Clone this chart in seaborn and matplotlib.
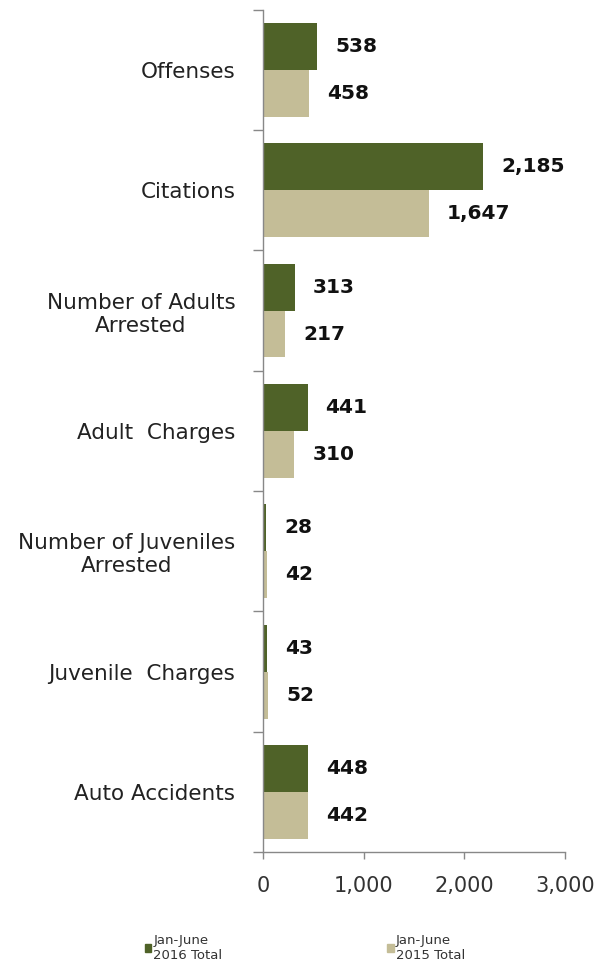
import numpy as np
import pandas as pd
import seaborn as sns
import matplotlib.pyplot as plt
from matplotlib.patches import Patch

# values
categories = ["Offenses", "Citations", "Number of Adults\nArrested", "Adult  Charges",
              "Number of Juveniles\nArrested", "Juvenile  Charges", "Auto Accidents"]
total_2016 = [538, 2185, 313, 441, 28, 43, 448]
total_2015 = [458, 1647, 217, 310, 42, 52, 442]
series = ["Jan-June\n2016 Total", "Jan-June\n2015 Total"]
xticks = [0, 1000, 2000, 3000]

colors = ["#4f6228", "#c4bd97"]

# long format for seaborn
df = pd.DataFrame({
    "category": categories * 2,
    "value": total_2016 + total_2015,
    "series": [series[0]] * len(categories) + [series[1]] * len(categories),
})

sns.set_theme(style="white")
plt.rcParams["font.family"] = ["DejaVu Sans"]

fig = plt.figure(figsize=(5.98, 9.64), dpi=100)
ax = fig.add_axes([0.44, 0.116, 0.505, 0.874])

sns.barplot(data=df, y="category", x="value", hue="series", order=categories,
            hue_order=series, palette=colors, orient="h", width=0.78,
            saturation=1, linewidth=0, ax=ax, legend=False)

# value labels
for c in ax.containers:
    ax.bar_label(c, labels=[f"{v:,.0f}" for v in c.datavalues], padding=13,
                 fontsize=14.5, fontweight="bold", color="#111111")

ax.set_xlim(0, 3000)
ax.set_ylim(len(categories) - 0.5, -0.5)
ax.set_xticks(xticks)
ax.set_xticklabels([f"{t:,}" for t in xticks], fontsize=15, color="#333333")
ax.tick_params(axis="x", length=5, width=1, color="#888888", pad=12, bottom=True)
ax.tick_params(axis="y", which="major", length=0, labelsize=15.5, labelcolor="#222222", pad=20)
ax.set_yticks(np.arange(-0.5, len(categories) + 0.5, 1), minor=True)
ax.tick_params(axis="y", which="minor", length=7, width=1, color="#888888", left=True)
ax.set_xlabel("")
ax.set_ylabel("")
for lab in ax.get_yticklabels():
    lab.set_multialignment("center")

for s in ["top", "right"]:
    ax.spines[s].set_visible(False)
for s in ["left", "bottom"]:
    ax.spines[s].set_color("#888888")
    ax.spines[s].set_linewidth(1)

handles = [Patch(color=colors[0]), Patch(color=colors[1])]
fig.legend(handles, series, loc="lower left", bbox_to_anchor=(0.222, -0.01), ncol=2,
           frameon=False, fontsize=9.5, handlelength=0.5, handleheight=0.5,
           handletextpad=0.15, columnspacing=12.5, labelcolor="#333333")

plt.savefig("out.png", dpi=100)
